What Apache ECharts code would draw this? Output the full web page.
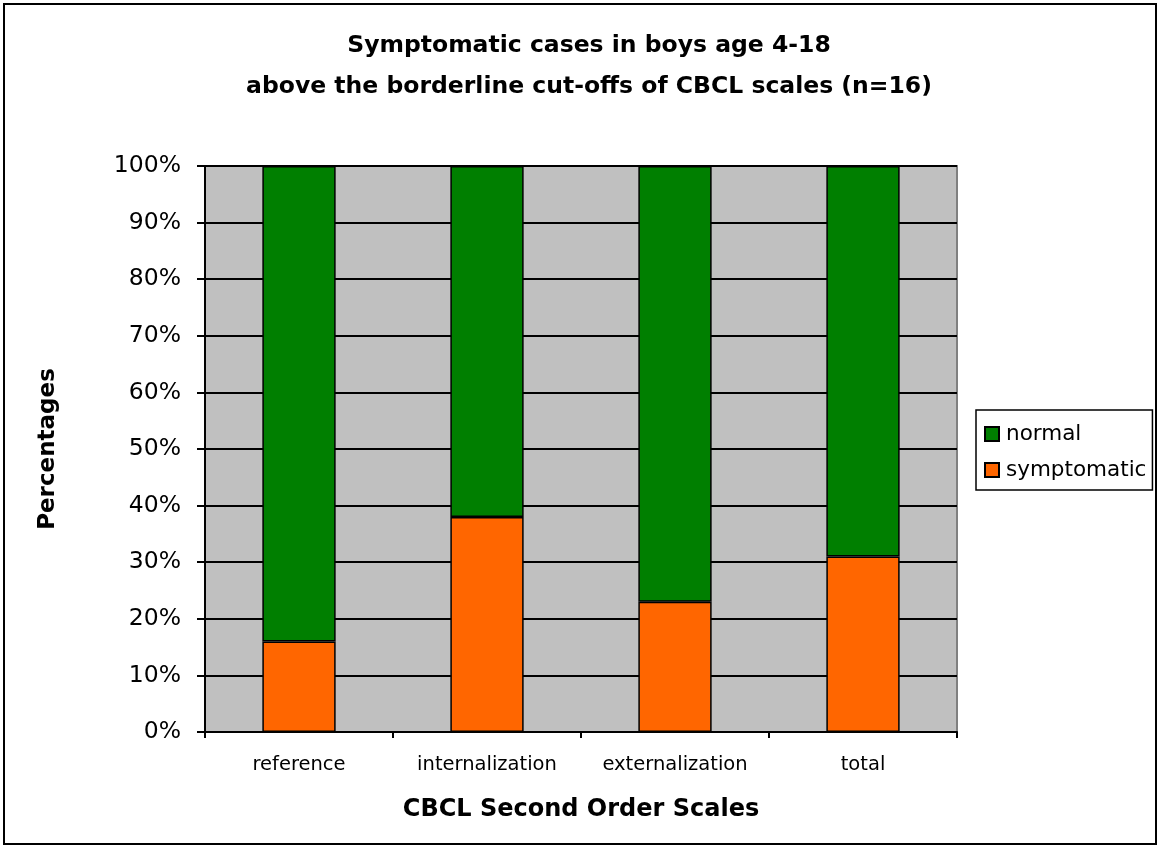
<!DOCTYPE html>
<html>
<head>
<meta charset="utf-8">
<script src="https://cdn.jsdelivr.net/npm/echarts@6/dist/echarts.min.js"></script>
<style>
  html, body { margin: 0; padding: 0; background: #fff; }
  #chart { width: 1160px; height: 848px; }
</style>
</head>
<body>
<div id="chart"></div>
<script>
const categories = ["reference", "internalization", "externalization", "total"];
const symptomatic = [16, 38, 23, 31];
const normal = [84, 62, 77, 69];
const yTicks = [0, 10, 20, 30, 40, 50, 60, 70, 80, 90, 100];

const chart = echarts.init(document.getElementById("chart"));

const font = "'DejaVu Sans', Verdana, sans-serif";

const option = {
  backgroundColor: "#fff",
  animation: false,
  textStyle: { fontFamily: font, color: "#000" },
  graphic: [
    {
      type: "rect",
      shape: { x: 4, y: 4, width: 1152, height: 840 },
      style: { fill: "none", stroke: "#000", lineWidth: 2 },
      silent: true,
      z: 0
    }
  ],
  title: {
    text: "Symptomatic cases in boys age 4-18\nabove the borderline cut-offs of CBCL scales (n=16)",
    left: 584,
    textAlign: "center",
    top: 20,
    textStyle: {
      fontFamily: font,
      fontSize: 23.5,
      fontWeight: "bold",
      color: "#000",
      lineHeight: 41
    }
  },
  legend: {
    data: ["normal", "symptomatic"],
    orient: "vertical",
    left: 976,
    top: 410,
    padding: [13, 6, 9, 8],
    itemGap: 14,
    itemWidth: 14,
    itemHeight: 14,
    borderColor: "#000",
    borderWidth: 1.5,
    borderRadius: 0,
    icon: "rect",
    textStyle: { fontFamily: font, fontSize: 21.5, color: "#000", padding: [0, 0, 0, 2] }
  },
  grid: {
    left: 205,
    right: 203,
    top: 166,
    bottom: 116,
    show: true,
    backgroundColor: "#c0c0c0",
    borderColor: "#808080",
    borderWidth: 2
  },
  xAxis: {
    type: "category",
    data: categories,
    name: "CBCL Second Order Scales",
    nameLocation: "middle",
    nameGap: 66,
    nameTextStyle: { fontFamily: font, fontSize: 24, fontWeight: "bold", color: "#000" },
    axisLine: { lineStyle: { color: "#000", width: 2 } },
    axisTick: { show: true, interval: 0, alignWithLabel: false, length: 6, lineStyle: { color: "#000", width: 2 } },
    axisLabel: { interval: 0, fontFamily: font, fontSize: 19.5, color: "#000", margin: 23 }
  },
  yAxis: {
    type: "value",
    min: 0,
    max: 100,
    interval: 10,
    name: "Percentages",
    nameLocation: "middle",
    nameGap: 145,
    nameRotate: 90,
    nameTextStyle: { fontFamily: font, fontSize: 23, fontWeight: "bold", color: "#000" },
    axisLine: { show: true, lineStyle: { color: "#000", width: 2 } },
    axisTick: { show: true, length: 8, lineStyle: { color: "#000", width: 2 } },
    axisLabel: {
      fontFamily: font,
      fontSize: 23.5,
      color: "#000",
      margin: 24,
      formatter: function (v) { return yTicks.indexOf(v) >= 0 ? v + "%" : ""; }
    },
    splitLine: { show: true, lineStyle: { color: "#000", width: 2 } }
  },
  series: [
    {
      name: "symptomatic",
      type: "bar",
      stack: "total",
      data: symptomatic,
      barWidth: "39%",
      itemStyle: { color: "#ff6600", borderColor: "#000", borderWidth: 1.5 }
    },
    {
      name: "normal",
      type: "bar",
      stack: "total",
      data: normal,
      barWidth: "39%",
      itemStyle: { color: "#007f00", borderColor: "#000", borderWidth: 1.5 }
    }
  ]
};

chart.setOption(option);
</script>
</body>
</html>
